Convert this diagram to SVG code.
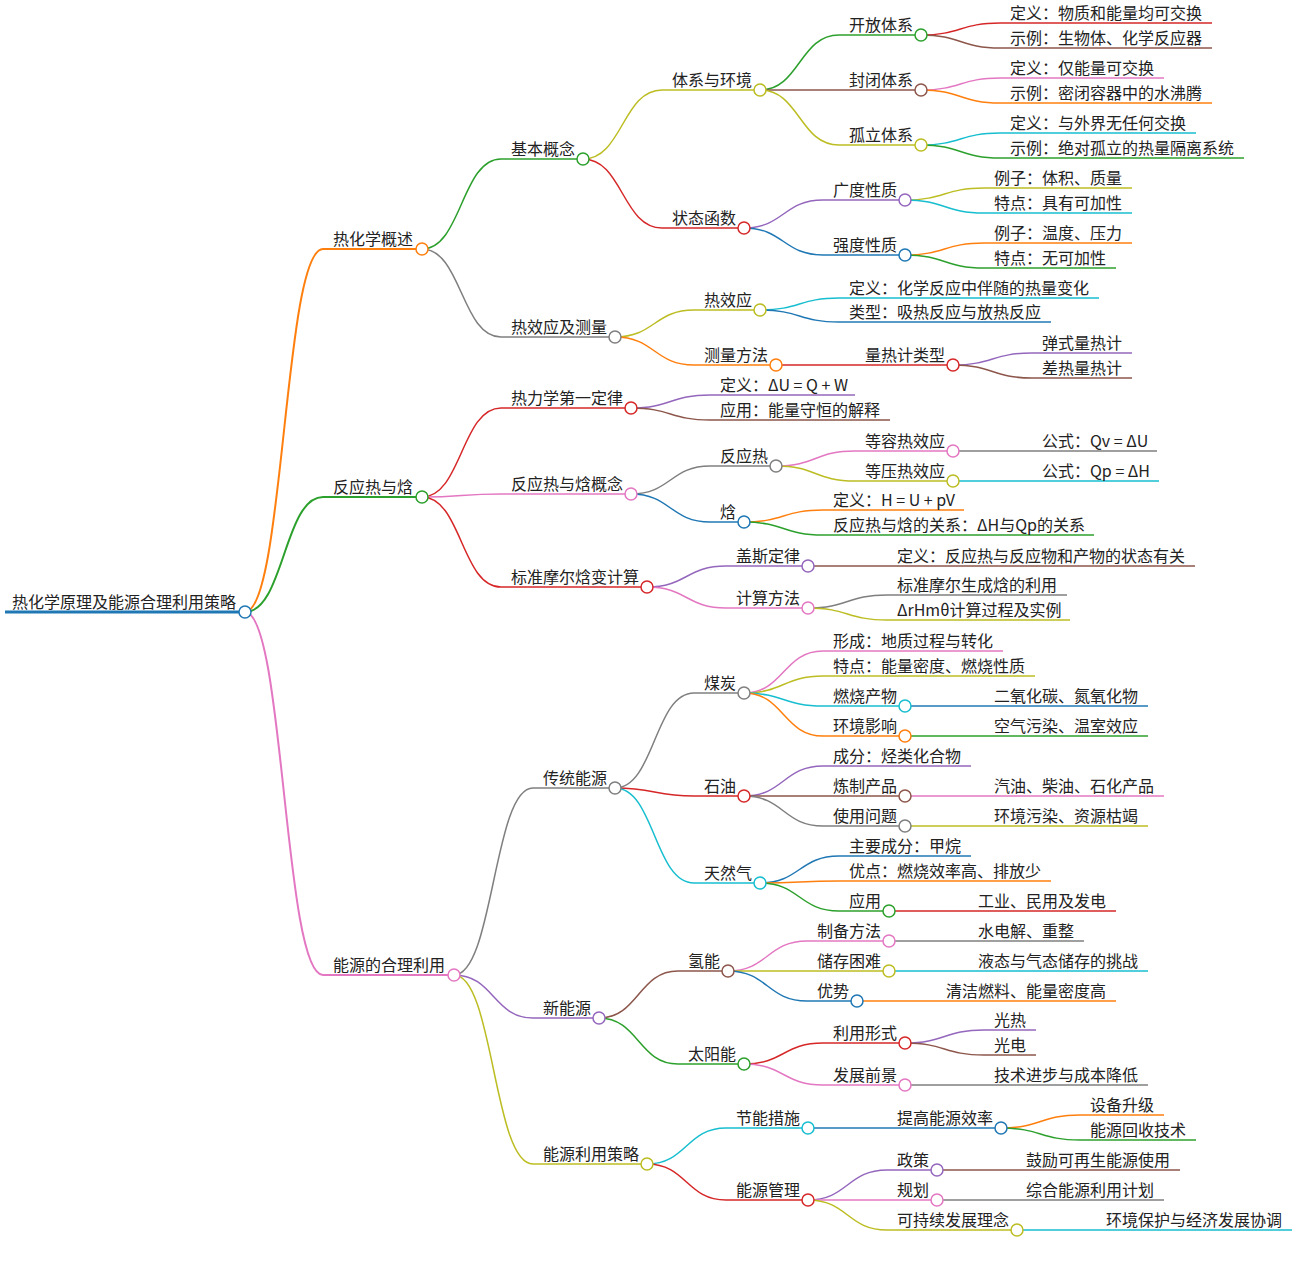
<svg xmlns="http://www.w3.org/2000/svg" width="1297" height="1275" viewBox="0 0 1297 1275">
<style>
.lk{fill:none;stroke-width:1.5}
.ln{fill:none;stroke-width:1.5}
.w2{stroke-width:2}
.w3{stroke-width:3}
.dot{fill:#fff;stroke-width:1.5}
.t{font-family:"Noto Sans CJK SC","Noto Sans",sans-serif;font-size:16px;fill:#222}
.blue{stroke:#1f77b4}.orange{stroke:#ff7f0e}.green{stroke:#2ca02c}.red{stroke:#d62728}.purple{stroke:#9467bd}
.brown{stroke:#8c564b}.pink{stroke:#e377c2}.gray{stroke:#7f7f7f}.olive{stroke:#bcbd22}.cyan{stroke:#17becf}
</style>
<rect width="1297" height="1275" fill="#fff"/>
<g id="connectors">
<path class="lk w2 orange" d="M245,612C284,612 284,249 323,249"/>
<path class="lk w2 green" d="M245,612C284,612 284,497 323,497"/>
<path class="lk w2 pink" d="M245,612C284,612 284,975 323,975"/>
<path class="lk green" d="M422,249C461.5,249 461.5,159 501,159"/>
<path class="lk gray" d="M422,249C461.5,249 461.5,337 501,337"/>
<path class="lk olive" d="M583,159C622.5,159 622.5,90 662,90"/>
<path class="lk red" d="M583,159C622.5,159 622.5,228 662,228"/>
<path class="lk green" d="M760,90C799.5,90 799.5,35 839,35"/>
<path class="lk brown" d="M760,90L839,90"/>
<path class="lk olive" d="M760,90C799.5,90 799.5,145 839,145"/>
<path class="lk red" d="M921,35C960.5,35 960.5,23 1000,23"/>
<path class="lk brown" d="M921,35C960.5,35 960.5,48 1000,48"/>
<path class="lk pink" d="M921,90C960.5,90 960.5,78 1000,78"/>
<path class="lk orange" d="M921,90C960.5,90 960.5,103 1000,103"/>
<path class="lk cyan" d="M921,145C960.5,145 960.5,133 1000,133"/>
<path class="lk green" d="M921,145C960.5,145 960.5,158 1000,158"/>
<path class="lk purple" d="M744,228C783.5,228 783.5,200 823,200"/>
<path class="lk blue" d="M744,228C783.5,228 783.5,255 823,255"/>
<path class="lk olive" d="M905,200C944.5,200 944.5,188 984,188"/>
<path class="lk cyan" d="M905,200C944.5,200 944.5,213 984,213"/>
<path class="lk orange" d="M905,255C944.5,255 944.5,243 984,243"/>
<path class="lk green" d="M905,255C944.5,255 944.5,268 984,268"/>
<path class="lk olive" d="M615,337C654.5,337 654.5,310 694,310"/>
<path class="lk orange" d="M615,337C654.5,337 654.5,365 694,365"/>
<path class="lk cyan" d="M760,310C799.5,310 799.5,298 839,298"/>
<path class="lk blue" d="M760,310C799.5,310 799.5,322 839,322"/>
<path class="lk red" d="M776,365L855,365"/>
<path class="lk purple" d="M953,365C992.5,365 992.5,353 1032,353"/>
<path class="lk brown" d="M953,365C992.5,365 992.5,378 1032,378"/>
<path class="lk red" d="M422,497C461.5,497 461.5,408 501,408"/>
<path class="lk pink" d="M422,497C461.5,497 461.5,494 501,494"/>
<path class="lk red" d="M422,497C461.5,497 461.5,587 501,587"/>
<path class="lk purple" d="M631,408C670.5,408 670.5,395 710,395"/>
<path class="lk brown" d="M631,408C670.5,408 670.5,420 710,420"/>
<path class="lk gray" d="M631,494C670.5,494 670.5,466 710,466"/>
<path class="lk blue" d="M631,494C670.5,494 670.5,522 710,522"/>
<path class="lk pink" d="M776,466C815.5,466 815.5,451 855,451"/>
<path class="lk olive" d="M776,466C815.5,466 815.5,481 855,481"/>
<path class="lk gray" d="M953,451L1032,451"/>
<path class="lk cyan" d="M953,481L1032,481"/>
<path class="lk orange" d="M744,522C783.5,522 783.5,510 823,510"/>
<path class="lk green" d="M744,522C783.5,522 783.5,535 823,535"/>
<path class="lk purple" d="M647,587C686.5,587 686.5,566 726,566"/>
<path class="lk pink" d="M647,587C686.5,587 686.5,608 726,608"/>
<path class="lk brown" d="M808,566L887,566"/>
<path class="lk gray" d="M808,608C847.5,608 847.5,595 887,595"/>
<path class="lk olive" d="M808,608C847.5,608 847.5,620 887,620"/>
<path class="lk gray" d="M454,975C493.5,975 493.5,788 533,788"/>
<path class="lk purple" d="M454,975C493.5,975 493.5,1018 533,1018"/>
<path class="lk olive" d="M454,975C493.5,975 493.5,1164 533,1164"/>
<path class="lk gray" d="M615,788C654.5,788 654.5,693 694,693"/>
<path class="lk red" d="M615,788C654.5,788 654.5,796 694,796"/>
<path class="lk cyan" d="M615,788C654.5,788 654.5,883 694,883"/>
<path class="lk pink" d="M744,693C783.5,693 783.5,651 823,651"/>
<path class="lk olive" d="M744,693C783.5,693 783.5,676 823,676"/>
<path class="lk cyan" d="M744,693C783.5,693 783.5,706 823,706"/>
<path class="lk orange" d="M744,693C783.5,693 783.5,736 823,736"/>
<path class="lk blue" d="M905,706L984,706"/>
<path class="lk green" d="M905,736L984,736"/>
<path class="lk purple" d="M744,796C783.5,796 783.5,766 823,766"/>
<path class="lk brown" d="M744,796L823,796"/>
<path class="lk gray" d="M744,796C783.5,796 783.5,826 823,826"/>
<path class="lk pink" d="M905,796L984,796"/>
<path class="lk olive" d="M905,826L984,826"/>
<path class="lk blue" d="M760,883C799.5,883 799.5,856 839,856"/>
<path class="lk orange" d="M760,883C799.5,883 799.5,881 839,881"/>
<path class="lk green" d="M760,883C799.5,883 799.5,911 839,911"/>
<path class="lk red" d="M889,911L968,911"/>
<path class="lk brown" d="M599,1018C638.5,1018 638.5,971 678,971"/>
<path class="lk green" d="M599,1018C638.5,1018 638.5,1064 678,1064"/>
<path class="lk pink" d="M728,971C767.5,971 767.5,941 807,941"/>
<path class="lk olive" d="M728,971L807,971"/>
<path class="lk blue" d="M728,971C767.5,971 767.5,1001 807,1001"/>
<path class="lk gray" d="M889,941L968,941"/>
<path class="lk cyan" d="M889,971L968,971"/>
<path class="lk orange" d="M857,1001L936,1001"/>
<path class="lk red" d="M744,1064C783.5,1064 783.5,1043 823,1043"/>
<path class="lk pink" d="M744,1064C783.5,1064 783.5,1085 823,1085"/>
<path class="lk purple" d="M905,1043C944.5,1043 944.5,1030 984,1030"/>
<path class="lk brown" d="M905,1043C944.5,1043 944.5,1055 984,1055"/>
<path class="lk gray" d="M905,1085L984,1085"/>
<path class="lk cyan" d="M647,1164C686.5,1164 686.5,1128 726,1128"/>
<path class="lk red" d="M647,1164C686.5,1164 686.5,1200 726,1200"/>
<path class="lk blue" d="M808,1128L887,1128"/>
<path class="lk orange" d="M1001,1128C1040.5,1128 1040.5,1115 1080,1115"/>
<path class="lk green" d="M1001,1128C1040.5,1128 1040.5,1140 1080,1140"/>
<path class="lk purple" d="M808,1200C847.5,1200 847.5,1170 887,1170"/>
<path class="lk pink" d="M808,1200L887,1200"/>
<path class="lk olive" d="M808,1200C847.5,1200 847.5,1230 887,1230"/>
<path class="lk brown" d="M937,1170L1016,1170"/>
<path class="lk gray" d="M937,1200L1016,1200"/>
<path class="lk cyan" d="M1017,1230L1096,1230"/>
</g>
<g id="n-root"><line class="ln w3 blue" x1="5" y1="612" x2="245" y2="612"/><circle class="dot blue" cx="245" cy="612" r="6"/><text class="t" x="12" y="608">热化学原理及能源合理利用策略</text></g>
<g id="n-1"><line class="ln w2 orange" x1="323" y1="249" x2="422" y2="249"/><circle class="dot orange" cx="422" cy="249" r="6"/><text class="t" x="333" y="245">热化学概述</text></g>
<g id="n-2"><line class="ln w2 green" x1="323" y1="497" x2="422" y2="497"/><circle class="dot green" cx="422" cy="497" r="6"/><text class="t" x="333" y="493">反应热与焓</text></g>
<g id="n-3"><line class="ln w2 pink" x1="323" y1="975" x2="454" y2="975"/><circle class="dot pink" cx="454" cy="975" r="6"/><text class="t" x="333" y="971">能源的合理利用</text></g>
<g id="n-1-1"><line class="ln green" x1="501" y1="159" x2="583" y2="159"/><circle class="dot green" cx="583" cy="159" r="6"/><text class="t" x="511" y="155">基本概念</text></g>
<g id="n-1-2"><line class="ln gray" x1="501" y1="337" x2="615" y2="337"/><circle class="dot gray" cx="615" cy="337" r="6"/><text class="t" x="511" y="333">热效应及测量</text></g>
<g id="n-1-1-1"><line class="ln olive" x1="662" y1="90" x2="760" y2="90"/><circle class="dot olive" cx="760" cy="90" r="6"/><text class="t" x="672" y="86">体系与环境</text></g>
<g id="n-1-1-2"><line class="ln red" x1="662" y1="228" x2="744" y2="228"/><circle class="dot red" cx="744" cy="228" r="6"/><text class="t" x="672" y="224">状态函数</text></g>
<g id="n-open"><line class="ln green" x1="839" y1="35" x2="921" y2="35"/><circle class="dot green" cx="921" cy="35" r="6"/><text class="t" x="849" y="31">开放体系</text></g>
<g id="n-closed"><line class="ln brown" x1="839" y1="90" x2="921" y2="90"/><circle class="dot brown" cx="921" cy="90" r="6"/><text class="t" x="849" y="86">封闭体系</text></g>
<g id="n-isolated"><line class="ln olive" x1="839" y1="145" x2="921" y2="145"/><circle class="dot olive" cx="921" cy="145" r="6"/><text class="t" x="849" y="141">孤立体系</text></g>
<g id="n-open-def"><line class="ln red" x1="1000" y1="23" x2="1212" y2="23"/><text class="t" x="1010" y="19">定义：物质和能量均可交换</text></g>
<g id="n-open-ex"><line class="ln brown" x1="1000" y1="48" x2="1212" y2="48"/><text class="t" x="1010" y="44">示例：生物体、化学反应器</text></g>
<g id="n-closed-def"><line class="ln pink" x1="1000" y1="78" x2="1164" y2="78"/><text class="t" x="1010" y="74">定义：仅能量可交换</text></g>
<g id="n-closed-ex"><line class="ln orange" x1="1000" y1="103" x2="1212" y2="103"/><text class="t" x="1010" y="99">示例：密闭容器中的水沸腾</text></g>
<g id="n-iso-def"><line class="ln cyan" x1="1000" y1="133" x2="1196" y2="133"/><text class="t" x="1010" y="129">定义：与外界无任何交换</text></g>
<g id="n-iso-ex"><line class="ln green" x1="1000" y1="158" x2="1244" y2="158"/><text class="t" x="1010" y="154">示例：绝对孤立的热量隔离系统</text></g>
<g id="n-ext"><line class="ln purple" x1="823" y1="200" x2="905" y2="200"/><circle class="dot purple" cx="905" cy="200" r="6"/><text class="t" x="833" y="196">广度性质</text></g>
<g id="n-int"><line class="ln blue" x1="823" y1="255" x2="905" y2="255"/><circle class="dot blue" cx="905" cy="255" r="6"/><text class="t" x="833" y="251">强度性质</text></g>
<g id="n-ext-1"><line class="ln olive" x1="984" y1="188" x2="1132" y2="188"/><text class="t" x="994" y="184">例子：体积、质量</text></g>
<g id="n-ext-2"><line class="ln cyan" x1="984" y1="213" x2="1132" y2="213"/><text class="t" x="994" y="209">特点：具有可加性</text></g>
<g id="n-int-1"><line class="ln orange" x1="984" y1="243" x2="1132" y2="243"/><text class="t" x="994" y="239">例子：温度、压力</text></g>
<g id="n-int-2"><line class="ln green" x1="984" y1="268" x2="1116" y2="268"/><text class="t" x="994" y="264">特点：无可加性</text></g>
<g id="n-heat"><line class="ln olive" x1="694" y1="310" x2="760" y2="310"/><circle class="dot olive" cx="760" cy="310" r="6"/><text class="t" x="704" y="306">热效应</text></g>
<g id="n-measure"><line class="ln orange" x1="694" y1="365" x2="776" y2="365"/><circle class="dot orange" cx="776" cy="365" r="6"/><text class="t" x="704" y="361">测量方法</text></g>
<g id="n-heat-1"><line class="ln cyan" x1="839" y1="298" x2="1099" y2="298"/><text class="t" x="849" y="294">定义：化学反应中伴随的热量变化</text></g>
<g id="n-heat-2"><line class="ln blue" x1="839" y1="322" x2="1051" y2="322"/><text class="t" x="849" y="318">类型：吸热反应与放热反应</text></g>
<g id="n-cal"><line class="ln red" x1="855" y1="365" x2="953" y2="365"/><circle class="dot red" cx="953" cy="365" r="6"/><text class="t" x="865" y="361">量热计类型</text></g>
<g id="n-cal-1"><line class="ln purple" x1="1032" y1="353" x2="1132" y2="353"/><text class="t" x="1042" y="349">弹式量热计</text></g>
<g id="n-cal-2"><line class="ln brown" x1="1032" y1="378" x2="1132" y2="378"/><text class="t" x="1042" y="374">差热量热计</text></g>
<g id="n-law1"><line class="ln red" x1="501" y1="408" x2="631" y2="408"/><circle class="dot red" cx="631" cy="408" r="6"/><text class="t" x="511" y="404">热力学第一定律</text></g>
<g id="n-concept"><line class="ln pink" x1="501" y1="494" x2="631" y2="494"/><circle class="dot pink" cx="631" cy="494" r="6"/><text class="t" x="511" y="490">反应热与焓概念</text></g>
<g id="n-std"><line class="ln red" x1="501" y1="587" x2="647" y2="587"/><circle class="dot red" cx="647" cy="587" r="6"/><text class="t" x="511" y="583">标准摩尔焓变计算</text></g>
<g id="n-law1-1"><line class="ln purple" x1="710" y1="395" x2="855" y2="395"/><text class="t" x="720" y="391">定义：ΔU = Q + W</text></g>
<g id="n-law1-2"><line class="ln brown" x1="710" y1="420" x2="890" y2="420"/><text class="t" x="720" y="416">应用：能量守恒的解释</text></g>
<g id="n-rh"><line class="ln gray" x1="710" y1="466" x2="776" y2="466"/><circle class="dot gray" cx="776" cy="466" r="6"/><text class="t" x="720" y="462">反应热</text></g>
<g id="n-h"><line class="ln blue" x1="710" y1="522" x2="744" y2="522"/><circle class="dot blue" cx="744" cy="522" r="6"/><text class="t" x="720" y="518">焓</text></g>
<g id="n-qv"><line class="ln pink" x1="855" y1="451" x2="953" y2="451"/><circle class="dot pink" cx="953" cy="451" r="6"/><text class="t" x="865" y="447">等容热效应</text></g>
<g id="n-qp"><line class="ln olive" x1="855" y1="481" x2="953" y2="481"/><circle class="dot olive" cx="953" cy="481" r="6"/><text class="t" x="865" y="477">等压热效应</text></g>
<g id="n-qv-1"><line class="ln gray" x1="1032" y1="451" x2="1157" y2="451"/><text class="t" x="1042" y="447">公式：Qv = ΔU</text></g>
<g id="n-qp-1"><line class="ln cyan" x1="1032" y1="481" x2="1159" y2="481"/><text class="t" x="1042" y="477">公式：Qp = ΔH</text></g>
<g id="n-h-1"><line class="ln orange" x1="823" y1="510" x2="964" y2="510"/><text class="t" x="833" y="506">定义：H = U + pV</text></g>
<g id="n-h-2"><line class="ln green" x1="823" y1="535" x2="1094" y2="535"/><text class="t" x="833" y="531">反应热与焓的关系：ΔH与Qp的关系</text></g>
<g id="n-hess"><line class="ln purple" x1="726" y1="566" x2="808" y2="566"/><circle class="dot purple" cx="808" cy="566" r="6"/><text class="t" x="736" y="562">盖斯定律</text></g>
<g id="n-calc"><line class="ln pink" x1="726" y1="608" x2="808" y2="608"/><circle class="dot pink" cx="808" cy="608" r="6"/><text class="t" x="736" y="604">计算方法</text></g>
<g id="n-hess-1"><line class="ln brown" x1="887" y1="566" x2="1195" y2="566"/><text class="t" x="897" y="562">定义：反应热与反应物和产物的状态有关</text></g>
<g id="n-calc-1"><line class="ln gray" x1="887" y1="595" x2="1067" y2="595"/><text class="t" x="897" y="591">标准摩尔生成焓的利用</text></g>
<g id="n-calc-2"><line class="ln olive" x1="887" y1="620" x2="1070" y2="620"/><text class="t" x="897" y="616">ΔrHmθ计算过程及实例</text></g>
<g id="n-trad"><line class="ln gray" x1="533" y1="788" x2="615" y2="788"/><circle class="dot gray" cx="615" cy="788" r="6"/><text class="t" x="543" y="784">传统能源</text></g>
<g id="n-new"><line class="ln purple" x1="533" y1="1018" x2="599" y2="1018"/><circle class="dot purple" cx="599" cy="1018" r="6"/><text class="t" x="543" y="1014">新能源</text></g>
<g id="n-strat"><line class="ln olive" x1="533" y1="1164" x2="647" y2="1164"/><circle class="dot olive" cx="647" cy="1164" r="6"/><text class="t" x="543" y="1160">能源利用策略</text></g>
<g id="n-coal"><line class="ln gray" x1="694" y1="693" x2="744" y2="693"/><circle class="dot gray" cx="744" cy="693" r="6"/><text class="t" x="704" y="689">煤炭</text></g>
<g id="n-oil"><line class="ln red" x1="694" y1="796" x2="744" y2="796"/><circle class="dot red" cx="744" cy="796" r="6"/><text class="t" x="704" y="792">石油</text></g>
<g id="n-gas"><line class="ln cyan" x1="694" y1="883" x2="760" y2="883"/><circle class="dot cyan" cx="760" cy="883" r="6"/><text class="t" x="704" y="879">天然气</text></g>
<g id="n-coal-1"><line class="ln pink" x1="823" y1="651" x2="1003" y2="651"/><text class="t" x="833" y="647">形成：地质过程与转化</text></g>
<g id="n-coal-2"><line class="ln olive" x1="823" y1="676" x2="1035" y2="676"/><text class="t" x="833" y="672">特点：能量密度、燃烧性质</text></g>
<g id="n-coal-3"><line class="ln cyan" x1="823" y1="706" x2="905" y2="706"/><circle class="dot cyan" cx="905" cy="706" r="6"/><text class="t" x="833" y="702">燃烧产物</text></g>
<g id="n-coal-4"><line class="ln orange" x1="823" y1="736" x2="905" y2="736"/><circle class="dot orange" cx="905" cy="736" r="6"/><text class="t" x="833" y="732">环境影响</text></g>
<g id="n-coal-3-1"><line class="ln blue" x1="984" y1="706" x2="1148" y2="706"/><text class="t" x="994" y="702">二氧化碳、氮氧化物</text></g>
<g id="n-coal-4-1"><line class="ln green" x1="984" y1="736" x2="1148" y2="736"/><text class="t" x="994" y="732">空气污染、温室效应</text></g>
<g id="n-oil-1"><line class="ln purple" x1="823" y1="766" x2="971" y2="766"/><text class="t" x="833" y="762">成分：烃类化合物</text></g>
<g id="n-oil-2"><line class="ln brown" x1="823" y1="796" x2="905" y2="796"/><circle class="dot brown" cx="905" cy="796" r="6"/><text class="t" x="833" y="792">炼制产品</text></g>
<g id="n-oil-3"><line class="ln gray" x1="823" y1="826" x2="905" y2="826"/><circle class="dot gray" cx="905" cy="826" r="6"/><text class="t" x="833" y="822">使用问题</text></g>
<g id="n-oil-2-1"><line class="ln pink" x1="984" y1="796" x2="1164" y2="796"/><text class="t" x="994" y="792">汽油、柴油、石化产品</text></g>
<g id="n-oil-3-1"><line class="ln olive" x1="984" y1="826" x2="1148" y2="826"/><text class="t" x="994" y="822">环境污染、资源枯竭</text></g>
<g id="n-gas-1"><line class="ln blue" x1="839" y1="856" x2="971" y2="856"/><text class="t" x="849" y="852">主要成分：甲烷</text></g>
<g id="n-gas-2"><line class="ln orange" x1="839" y1="881" x2="1051" y2="881"/><text class="t" x="849" y="877">优点：燃烧效率高、排放少</text></g>
<g id="n-gas-3"><line class="ln green" x1="839" y1="911" x2="889" y2="911"/><circle class="dot green" cx="889" cy="911" r="6"/><text class="t" x="849" y="907">应用</text></g>
<g id="n-gas-3-1"><line class="ln red" x1="968" y1="911" x2="1116" y2="911"/><text class="t" x="978" y="907">工业、民用及发电</text></g>
<g id="n-h2"><line class="ln brown" x1="678" y1="971" x2="728" y2="971"/><circle class="dot brown" cx="728" cy="971" r="6"/><text class="t" x="688" y="967">氢能</text></g>
<g id="n-solar"><line class="ln green" x1="678" y1="1064" x2="744" y2="1064"/><circle class="dot green" cx="744" cy="1064" r="6"/><text class="t" x="688" y="1060">太阳能</text></g>
<g id="n-h2-1"><line class="ln pink" x1="807" y1="941" x2="889" y2="941"/><circle class="dot pink" cx="889" cy="941" r="6"/><text class="t" x="817" y="937">制备方法</text></g>
<g id="n-h2-2"><line class="ln olive" x1="807" y1="971" x2="889" y2="971"/><circle class="dot olive" cx="889" cy="971" r="6"/><text class="t" x="817" y="967">储存困难</text></g>
<g id="n-h2-3"><line class="ln blue" x1="807" y1="1001" x2="857" y2="1001"/><circle class="dot blue" cx="857" cy="1001" r="6"/><text class="t" x="817" y="997">优势</text></g>
<g id="n-h2-1-1"><line class="ln gray" x1="968" y1="941" x2="1084" y2="941"/><text class="t" x="978" y="937">水电解、重整</text></g>
<g id="n-h2-2-1"><line class="ln cyan" x1="968" y1="971" x2="1148" y2="971"/><text class="t" x="978" y="967">液态与气态储存的挑战</text></g>
<g id="n-h2-3-1"><line class="ln orange" x1="936" y1="1001" x2="1116" y2="1001"/><text class="t" x="946" y="997">清洁燃料、能量密度高</text></g>
<g id="n-solar-1"><line class="ln red" x1="823" y1="1043" x2="905" y2="1043"/><circle class="dot red" cx="905" cy="1043" r="6"/><text class="t" x="833" y="1039">利用形式</text></g>
<g id="n-solar-2"><line class="ln pink" x1="823" y1="1085" x2="905" y2="1085"/><circle class="dot pink" cx="905" cy="1085" r="6"/><text class="t" x="833" y="1081">发展前景</text></g>
<g id="n-solar-1-1"><line class="ln purple" x1="984" y1="1030" x2="1036" y2="1030"/><text class="t" x="994" y="1026">光热</text></g>
<g id="n-solar-1-2"><line class="ln brown" x1="984" y1="1055" x2="1036" y2="1055"/><text class="t" x="994" y="1051">光电</text></g>
<g id="n-solar-2-1"><line class="ln gray" x1="984" y1="1085" x2="1148" y2="1085"/><text class="t" x="994" y="1081">技术进步与成本降低</text></g>
<g id="n-save"><line class="ln cyan" x1="726" y1="1128" x2="808" y2="1128"/><circle class="dot cyan" cx="808" cy="1128" r="6"/><text class="t" x="736" y="1124">节能措施</text></g>
<g id="n-manage"><line class="ln red" x1="726" y1="1200" x2="808" y2="1200"/><circle class="dot red" cx="808" cy="1200" r="6"/><text class="t" x="736" y="1196">能源管理</text></g>
<g id="n-eff"><line class="ln blue" x1="887" y1="1128" x2="1001" y2="1128"/><circle class="dot blue" cx="1001" cy="1128" r="6"/><text class="t" x="897" y="1124">提高能源效率</text></g>
<g id="n-eff-1"><line class="ln orange" x1="1080" y1="1115" x2="1164" y2="1115"/><text class="t" x="1090" y="1111">设备升级</text></g>
<g id="n-eff-2"><line class="ln green" x1="1080" y1="1140" x2="1196" y2="1140"/><text class="t" x="1090" y="1136">能源回收技术</text></g>
<g id="n-policy"><line class="ln purple" x1="887" y1="1170" x2="937" y2="1170"/><circle class="dot purple" cx="937" cy="1170" r="6"/><text class="t" x="897" y="1166">政策</text></g>
<g id="n-plan"><line class="ln pink" x1="887" y1="1200" x2="937" y2="1200"/><circle class="dot pink" cx="937" cy="1200" r="6"/><text class="t" x="897" y="1196">规划</text></g>
<g id="n-sus"><line class="ln olive" x1="887" y1="1230" x2="1017" y2="1230"/><circle class="dot olive" cx="1017" cy="1230" r="6"/><text class="t" x="897" y="1226">可持续发展理念</text></g>
<g id="n-policy-1"><line class="ln brown" x1="1016" y1="1170" x2="1180" y2="1170"/><text class="t" x="1026" y="1166">鼓励可再生能源使用</text></g>
<g id="n-plan-1"><line class="ln gray" x1="1016" y1="1200" x2="1164" y2="1200"/><text class="t" x="1026" y="1196">综合能源利用计划</text></g>
<g id="n-sus-1"><line class="ln cyan" x1="1096" y1="1230" x2="1292" y2="1230"/><text class="t" x="1106" y="1226">环境保护与经济发展协调</text></g>
</svg>
